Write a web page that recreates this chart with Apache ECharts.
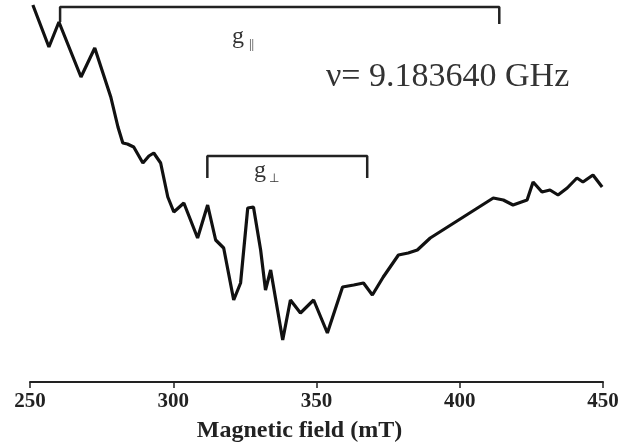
<!DOCTYPE html>
<html><head><meta charset="utf-8">
<script src="https://cdn.jsdelivr.net/npm/echarts@6/dist/echarts.min.js"></script>
<style>html,body{margin:0;padding:0;background:#fff}#c{width:634px;height:443px}</style>
</head><body><div id="c"></div>
<script>
// Magnetic field (mT)
const field = [251.0,256.6,260.1,267.8,272.6,278.2,280.7,282.4,284.0,286.2,289.4,291.5,293.2,295.6,298.1,300.2,303.7,308.5,312.0,314.8,317.6,321.1,323.5,326.0,328.0,330.5,332.2,334.0,338.2,340.9,344.4,349.0,353.8,359.1,363.0,366.4,369.5,373.3,378.6,382.0,385.2,389.7,411.7,415.2,418.6,423.5,425.6,428.7,431.5,434.3,437.5,440.9,443.0,446.5,449.7];
// EPR signal (arbitrary units)
const signal = [377,335,360,305,334,285,255,239,238,235,219,226,229,219,185,170,179,144,177,142,134,82,99,174,175,132,92,112,42,82,69,82,49,95,97,99,87,105,127,129,132,144,184,182,177,182,200,190,192,187,194,204,200,207,195];
const xTicks = [250,300,350,400,450];
// bracket ends (mT) and levels (a.u.)
const gParallel = [260.5, 413.8];
const gParallelLevels = [375, 360, 358];
const gPerp = [311.9, 367.7];
const gPerpLevels = [226, 204, 204];

const chart = echarts.init(document.getElementById('c'));
const curve = field.map((f,i)=>[f, signal[i]]);
function bracket(ends, lv){ return [[ends[0],lv[1]],[ends[0],lv[0]],[ends[1],lv[0]],[ends[1],lv[2]]]; }
const serif = '"Liberation Serif","Times New Roman",serif';
chart.setOption({
  animation:false,
  grid:{left:30,right:31,top:0,bottom:61,containLabel:false,outerBoundsMode:'none'},
  xAxis:{type:'value',min:xTicks[0],max:xTicks[xTicks.length-1],interval:50,
    axisLine:{lineStyle:{color:'#222',width:2}},
    axisTick:{length:6,lineStyle:{color:'#222',width:1.5}},
    splitLine:{show:false},
    axisLabel:{color:'#222',fontFamily:serif,fontWeight:'bold',fontSize:21,margin:9},
    name:'Magnetic field (mT)',nameLocation:'middle',nameGap:37,
    nameTextStyle:{color:'#222',fontFamily:serif,fontWeight:'bold',fontSize:24,padding:[0,34,0,0]}},
  yAxis:{type:'value',min:0,max:382,show:false},
  series:[
    {type:'line',data:curve,showSymbol:false,lineStyle:{color:'#111',width:3.2},z:3},
    {type:'line',data:bracket(gParallel,gParallelLevels),showSymbol:false,lineStyle:{color:'#222',width:2.5}},
    {type:'line',data:bracket(gPerp,gPerpLevels),showSymbol:false,lineStyle:{color:'#222',width:2.5}}
  ],
  graphic:[
    {type:'text',left:232,top:25,style:{text:'{g|g}{s|||}',rich:{g:{fontFamily:serif,fontSize:24,fill:'#333'},s:{fontFamily:serif,fontSize:13,fill:'#333',padding:[15,0,0,5]}}}},
    {type:'text',left:254,top:159,style:{text:'{g|g}{s|⊥}',rich:{g:{fontFamily:serif,fontSize:24,fill:'#333'},s:{fontFamily:serif,fontSize:12,fill:'#333',padding:[16,0,0,3]}}}},
    {type:'text',left:326,top:60,style:{text:'ν= 9.183640 GHz',fontFamily:serif,fontSize:34,fill:'#333'}}
  ]
});
</script></body></html>
